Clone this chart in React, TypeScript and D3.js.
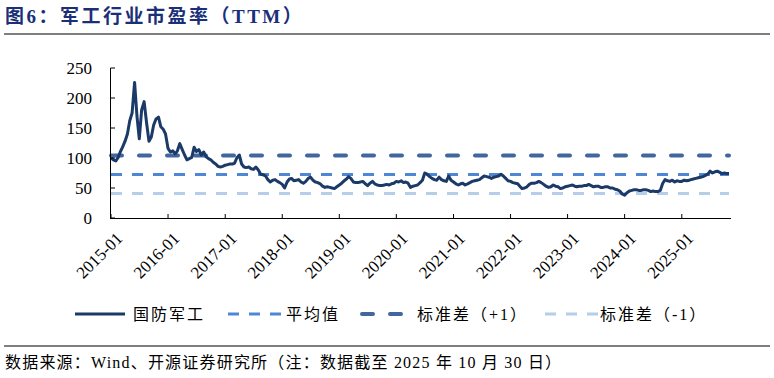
import React from 'react';
import * as d3 from 'd3';

// half-month readings (1st and 16th of each month)
const pe2015 = [100, 97, 95, 101, 110, 118, 128, 140, 162, 175, 226, 170, 132, 180, 194, 160, 128, 135, 155, 165, 168, 152, 148, 140];
const pe2016 = [116, 110, 112, 107, 112, 124, 114, 105, 97, 99, 101, 118, 111, 114, 105, 110, 102, 99, 97, 93, 90, 86, 85, 86];
const pe2017 = [88, 89, 90, 90, 91, 100, 105, 90, 85, 84, 85, 82, 81, 85, 80, 73, 72, 70, 64, 60, 63, 64, 61, 59];
const pe2018 = [56, 50, 60, 65, 66, 62, 63, 64, 60, 58, 61, 66, 68, 63, 60, 59, 57, 53, 51, 52, 51, 50, 49, 52];
const pe2019 = [55, 58, 62, 65, 69, 66, 60, 59, 59, 60, 61, 57, 54, 58, 61, 57, 55, 54, 54, 55, 56, 55, 57, 58];
const pe2020 = [61, 60, 62, 59, 60, 58, 51, 53, 54, 55, 59, 63, 75, 73, 69, 66, 64, 63, 68, 64, 62, 61, 70, 63];
const pe2021 = [60, 57, 55, 57, 58, 55, 57, 59, 61, 62, 63, 64, 67, 70, 69, 68, 66, 68, 69, 70, 73, 70, 66, 62];
const pe2022 = [61, 59, 58, 57, 53, 49, 50, 52, 56, 58, 58, 59, 61, 59, 56, 53, 51, 52, 55, 53, 52, 49, 50, 52];
const pe2023 = [53, 54, 55, 53, 52, 53, 53, 54, 54, 56, 54, 52, 53, 53, 51, 51, 52, 52, 50, 50, 48, 47, 45, 40];
const pe2024 = [38, 42, 45, 46, 47, 47, 46, 46, 47, 47, 46, 44, 45, 44, 44, 46, 58, 64, 62, 61, 63, 60, 62, 61];
const pe2025 = [61, 63, 62, 63, 64, 65, 66, 67, 68, 69, 71, 73, 78, 75, 77, 78, 76, 74, 75, 74];
const lastDate = '2025-10-30';
const lastValue = 74;

const yearRows: [number, number[]][] = [
  [2015, pe2015], [2016, pe2016], [2017, pe2017], [2018, pe2018], [2019, pe2019], [2020, pe2020],
  [2021, pe2021], [2022, pe2022], [2023, pe2023], [2024, pe2024], [2025, pe2025],
];

const meanPE = 72.5;
const plusOne = 104;
const minusOne = 41;

const yTicks = [0, 50, 100, 150, 200, 250];
const xTickLabels = ['2015-01', '2016-01', '2017-01', '2018-01', '2019-01', '2020-01', '2021-01', '2022-01', '2023-01', '2024-01', '2025-01'];

const legendNames = ['国防军工', '平均值', '标准差（+1）', '标准差（-1）'];

const C_MAIN = '#1C3A68';
const C_MEAN = '#4F87D6';
const C_PLUS = '#41679E';
const C_MINUS = '#B7CEEA';

const serif = "'Liberation Serif', 'Times New Roman', 'Noto Sans CJK SC', serif";
const cjk = "'Liberation Serif', 'Noto Sans CJK SC', sans-serif";

const parse = d3.timeParse('%Y-%m-%d');

const App: React.FC = () => {
  const points: { date: Date; value: number }[] = [];
  yearRows.forEach(([yr, vals]) => {
    vals.forEach((v, i) => {
      points.push({ date: new Date(yr, Math.floor(i / 2), i % 2 ? 16 : 1), value: v });
    });
  });
  const end = parse(lastDate) as Date;
  points.push({ date: end, value: lastValue });

  const x = d3.scaleTime()
    .domain([new Date(2015, 0, 1), end])
    .range([111, 729]);
  const y = d3.scaleLinear().domain([0, 250]).range([218, 68]);

  const line = d3.line<{ date: Date; value: number }>()
    .x(d => x(d.date))
    .y(d => y(d.value));

  const x0 = x(points[0].date);
  const x1 = x(end);

  const tickDates = xTickLabels.map(s => parse(s + '-01') as Date);

  const refLines = [
    { v: meanPE, color: C_MEAN, w: 3, dash: '11,10', cap: 'butt' },
    { v: plusOne, color: C_PLUS, w: 4, dash: '11,17', cap: 'round' },
    { v: minusOne, color: C_MINUS, w: 3, dash: '11,10', cap: 'butt' },
  ];

  const legend = [
    { x: 75, w: 50, textX: 133, color: C_MAIN, sw: 3, dash: undefined, cap: 'butt' },
    { x: 228, w: 54, textX: 286, color: C_MEAN, sw: 3, dash: '11,10', cap: 'butt' },
    { x: 362, w: 44, textX: 417, color: C_PLUS, sw: 4, dash: '11,17', cap: 'round' },
    { x: 545, w: 53, textX: 600, color: C_MINUS, sw: 3, dash: '11,10', cap: 'butt' },
  ];

  return (
    <svg width={774} height={378} style={{ position: 'absolute', left: 0, top: 0, background: '#fff' }}>
      <text x={5} y={23} fontFamily={cjk} fontWeight="bold" fontSize={19} letterSpacing={2.5} fill="#1A2F78">
        图6：军工行业市盈率（TTM）
      </text>
      <line x1={4} x2={770} y1={34} y2={34} stroke="#7F7F7F" strokeWidth={2} />

      {/* reference lines */}
      {refLines.map((r, i) => (
        <line key={i} x1={x0} x2={x1} y1={y(r.v)} y2={y(r.v)} stroke={r.color}
          strokeWidth={r.w} strokeDasharray={r.dash} strokeLinecap={r.cap as any} />
      ))}

      <path d={line(points) || ''} fill="none" stroke={C_MAIN} strokeWidth={3} strokeLinejoin="round" />

      {/* y axis, ticks inside */}
      <line x1={110.5} x2={110.5} y1={y(250)} y2={y(0)} stroke="#000" strokeWidth={1} />
      {yTicks.map(t => (
        <g key={t}>
          <line x1={110.5} x2={115} y1={y(t)} y2={y(t)} stroke="#000" />
          <text x={92} y={y(t)} dy="0.35em" textAnchor="end" fontFamily={serif} fontSize={17} fill="#000">{t}</text>
        </g>
      ))}

      {/* x axis, ticks inside */}
      <line x1={110} x2={731} y1={218.5} y2={218.5} stroke="#000" strokeWidth={1} />
      {tickDates.map((d, i) => (
        <g key={i}>
          <line x1={x(d)} x2={x(d)} y1={214} y2={218.5} stroke="#000" />
          <text transform={`translate(${x(d) + 4},${231}) rotate(-45)`} textAnchor="end" dy="0.7em"
            fontFamily={serif} fontSize={17} fill="#000">{xTickLabels[i]}</text>
        </g>
      ))}

      {/* legend */}
      {legend.map((l, i) => (
        <g key={i}>
          <line x1={l.x} x2={l.x + l.w} y1={314} y2={314} stroke={l.color} strokeWidth={l.sw}
            strokeDasharray={l.dash} strokeLinecap={l.cap as any} />
          <text x={l.textX} y={314} dy="0.35em" fontFamily={cjk} fontSize={16} letterSpacing={2} fill="#000">{legendNames[i]}</text>
        </g>
      ))}

      <line x1={4} x2={770} y1={346} y2={346} stroke="#7F7F7F" strokeWidth={2} />
      <text x={5} y={368} fontFamily={cjk} fontSize={16} letterSpacing={1.2} fill="#000">
        数据来源：Wind、开源证券研究所（注：数据截至 2025 年 10 月 30 日）
      </text>
    </svg>
  );
};

export default App;
